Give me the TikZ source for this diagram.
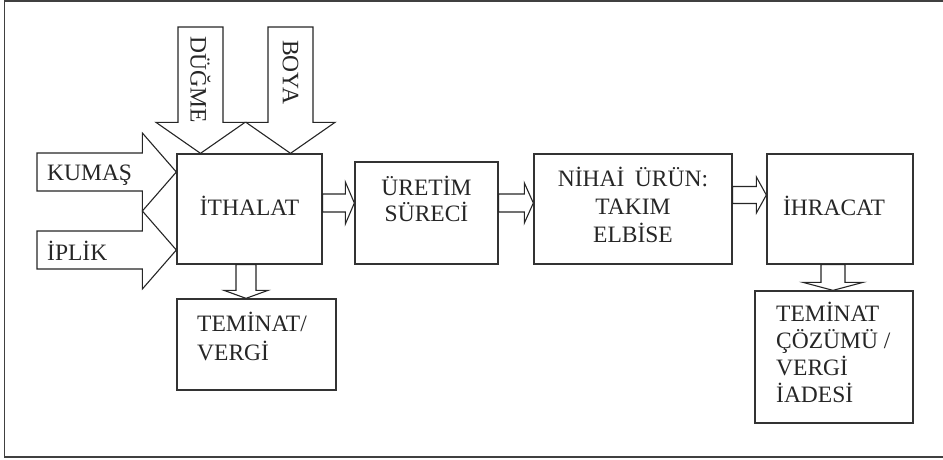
\documentclass[tikz,border=0pt]{standalone}
\usepackage{fontspec}
\setmainfont{Liberation Serif}
\usetikzlibrary{calc,positioning}

% block arrow pointing right: start, tip, shaft half width, head half width, head length
\newcommand{\rblock}[5]{%
  \draw[blockarrow] let \p1=(#1), \p2=(#2) in
    (\x1,\y2+#3) -- (\x2-#5,\y2+#3) -- (\x2-#5,\y2+#4) -- (\x2,\y2)
    -- (\x2-#5,\y2-#4) -- (\x2-#5,\y2-#3) -- (\x1,\y2-#3) -- cycle;}
% block arrow pointing down
\newcommand{\dblock}[5]{%
  \draw[blockarrow] let \p1=(#1), \p2=(#2) in
    (\x2-#3,\y1) -- (\x2-#3,\y2+#5) -- (\x2-#4,\y2+#5) -- (\x2,\y2)
    -- (\x2+#4,\y2+#5) -- (\x2+#3,\y2+#5) -- (\x2+#3,\y1) -- cycle;}

\begin{document}
\begin{tikzpicture}[x=1pt, y=-1pt,
  box/.style={rectangle, draw=black!80, line width=1.3pt, inner sep=0pt},
  lbl/.style={inner sep=0pt, font=\fontsize{23.5}{27}\selectfont, text=black!85},
  blockarrow/.style={draw=black!85, line width=1.1pt, fill=white, line join=miter},
  frame/.style={draw=black!75, line width=1.4pt}]

    \useasboundingbox (0,0) rectangle (943,459);
    \draw[frame] (943,1) -- (4.5,1) -- (4.5,457) -- (943,457);

    % boxes
    \node[box, minimum width=145, minimum height=110] (ith) at (249.5,209) {};
    \node[box, minimum width=143, minimum height=102] (ure) at (426.5,213) {};
    \node[box, minimum width=198, minimum height=110] (nih) at (633,209) {};
    \node[box, minimum width=146, minimum height=110] (ihr) at (840,209) {};
    \node[box, minimum width=159, minimum height=91] (tem) at (256.5,344.5) {};
    \node[box, minimum width=158, minimum height=132] (coz) at (834,357) {};

    % free ends of the input arrows
    \coordinate (kumas) at (37,172);
    \coordinate (iplik) at (37,250);
    \coordinate (dugme) at (200.5,27);
    \coordinate (boya)  at (290.5,27);
    % tips of the connectors
    \coordinate (t1) at (ure.west |- 0,203);
    \coordinate (t2) at (nih.west |- 0,203);
    \coordinate (t3) at (ihr.west |- 0,195);
    \coordinate (t4) at (tem.north -| 246,0);
    \coordinate (t5) at (coz.north -| 833,0);

    % input arrows
    \rblock{kumas}{ith.west |- kumas}{19pt}{39pt}{34pt}
    \rblock{iplik}{ith.west |- iplik}{19pt}{39pt}{34pt}
    \dblock{dugme}{ith.north -| dugme}{22.5pt}{44.5pt}{31pt}
    \dblock{boya}{ith.north -| boya}{22.5pt}{44.5pt}{31pt}

    % connectors
    \rblock{ith.east |- t1}{t1}{9pt}{21pt}{9pt}
    \rblock{ure.east |- t2}{t2}{9pt}{20pt}{9pt}
    \rblock{nih.east |- t3}{t3}{8.5pt}{18pt}{10pt}
    \dblock{ith.south -| t4}{t4}{10pt}{22pt}{8pt}
    \dblock{ihr.south -| t5}{t5}{12pt}{30pt}{8pt}

    % texts (base of a multi-line node = its last line)
    \node[lbl, anchor=base west] (kumas text) at (47,180) {KUMAŞ};
    \node[lbl, anchor=base west] (iplik text) at (47,260) {İPLİK};
    \node[lbl, rotate=-90] (dugme text) at (200.5,80) {DÜĞME};
    \node[lbl, rotate=-90] (boya text) at (290.5,72) {BOYA};
    \node[lbl, anchor=base] (ith text) at (249.5,215) {İTHALAT};
    \node[lbl, anchor=base, align=center, font=\fontsize{23.5}{26}\selectfont] (ure text) at (426.5,221) {ÜRETİM\\SÜRECİ};
    \node[lbl, anchor=base, align=center, font=\fontsize{23.5}{28}\selectfont] (nih text) at (633,242) {NİHAİ\hspace{0.45em}ÜRÜN:\\TAKIM\\ELBİSE};
    \node[lbl, anchor=base] (ihr text) at (834,215) {İHRACAT};
    \node[lbl, anchor=base west, align=left, font=\fontsize{23.5}{29}\selectfont] (tem text) at (197,360) {TEMİNAT/\\VERGİ};
    \node[lbl, anchor=base west, align=left] (coz text) at (776,402) {TEMİNAT\\ÇÖZÜMÜ /\\VERGİ\\İADESİ};

\end{tikzpicture}
\end{document}
